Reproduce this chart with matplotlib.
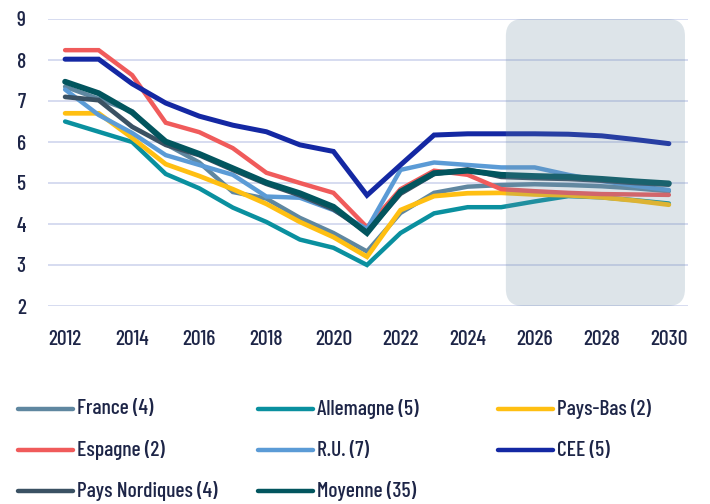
import matplotlib
matplotlib.use('Agg')
import matplotlib.pyplot as plt
from matplotlib.patches import FancyBboxPatch
from matplotlib.lines import Line2D

years = list(range(2012, 2031))

france = [7.35, 7.05, 6.75, 5.95, 5.50, 4.78, 4.62, 4.15, 3.78, 3.33, 4.27, 4.76, 4.91, 4.95, 4.97, 4.95, 4.92, 4.87, 4.80]
allemagne = [6.50, 6.25, 6.00, 5.22, 4.87, 4.40, 4.05, 3.62, 3.42, 3.00, 3.78, 4.26, 4.41, 4.41, 4.55, 4.68, 4.65, 4.58, 4.50]
pays_bas = [6.70, 6.70, 6.10, 5.46, 5.17, 4.85, 4.49, 4.05, 3.68, 3.20, 4.34, 4.68, 4.75, 4.76, 4.72, 4.70, 4.65, 4.57, 4.47]
espagne = [8.24, 8.24, 7.63, 6.47, 6.24, 5.85, 5.25, 5.00, 4.76, 3.92, 4.85, 5.30, 5.20, 4.85, 4.80, 4.76, 4.73, 4.72, 4.71]
ru = [7.28, 6.66, 6.22, 5.68, 5.44, 5.20, 4.67, 4.64, 4.34, 3.88, 5.32, 5.50, 5.44, 5.38, 5.38, 5.20, 5.05, 4.93, 4.83]
cee = [8.02, 8.02, 7.42, 6.95, 6.63, 6.41, 6.25, 5.93, 5.77, 4.70, 5.44, 6.17, 6.20, 6.20, 6.20, 6.19, 6.15, 6.06, 5.96]
nordiques = [7.10, 7.02, 6.37, 5.93, 5.68, 5.32, 4.98, 4.70, 4.36, 3.80, 4.74, 5.22, 5.33, 5.15, 5.12, 5.10, 5.06, 5.00, 4.96]
moyenne = [7.47, 7.19, 6.72, 6.01, 5.71, 5.36, 5.01, 4.75, 4.42, 3.78, 4.79, 5.24, 5.30, 5.20, 5.17, 5.15, 5.10, 5.04, 4.99]

labels = ["France (4)", "Allemagne (5)", "Pays-Bas (2)", "Espagne (2)", "R.U. (7)",
          "CEE (5)", "Pays Nordiques (4)", "Moyenne (35)"]
series = [france, allemagne, pays_bas, espagne, ru, cee, nordiques, moyenne]
colors = ["#5f87a0", "#0a909f", "#ffbf12", "#f05b5b", "#5b9bd6", "#1428a3", "#3a5163", "#02555e"]
widths = [3.2, 3.2, 3.4, 3.2, 3.2, 3.6, 3.4, 4.2]

xticks = list(range(2012, 2031, 2))
yticks = list(range(2, 10))
forecast_start, forecast_end = 2025.14, 2030.48

FONT = ['Barlow Condensed', 'DejaVu Sans']
TXT = '#1d2547'

fig = plt.figure(figsize=(7.1, 5.04), dpi=100)
ax = fig.add_axes([48/710, 1-306/504, 640/710, 287/504])
ax.set_xlim(2011.49, 2030.57)
ax.set_ylim(2, 9)

ax.set_yticks(yticks)
ax.set_xticks(xticks)
ax.grid(axis='y', color='#d3d9ef', lw=1.3, zorder=0)
ax.grid(axis='x', visible=False)
for s in ax.spines.values():
    s.set_visible(False)
ax.tick_params(length=0, colors=TXT, labelsize=15.5)
ax.tick_params(axis='y', pad=16)
ax.tick_params(axis='x', pad=17)
for lab in ax.get_xticklabels() + ax.get_yticklabels():
    lab.set_fontfamily(FONT)
    lab.set_fontweight(500)
    lab.set_color(TXT)

for vals, c, w in zip(series, colors, widths):
    ax.plot(years, vals, color=c, lw=w, solid_capstyle='round', solid_joinstyle='miter', zorder=3)

# forecast shading (drawn over lines)
xpp = (2030.57 - 2011.49) / 640
ypp = 7 / 287
box = FancyBboxPatch((forecast_start, 2), forecast_end - forecast_start, 7,
                     boxstyle="round,pad=0,rounding_size=%f" % (17*xpp),
                     mutation_aspect=ypp/xpp,
                     fc='#6c8ea4', ec='none', alpha=0.23, zorder=4, clip_on=False)
ax.add_patch(box)

# legend, laid out in fixed columns
col_x = [18, 258, 498]
row_y = [409, 450, 491]
for i, (lab, c) in enumerate(zip(labels, colors)):
    r, k = divmod(i, 3)
    x0 = col_x[k] / 710
    y0 = 1 - row_y[r] / 504
    fig.add_artist(Line2D([x0, x0 + 55/710], [y0, y0], color=c, lw=3.2,
                          solid_capstyle='round', transform=fig.transFigure))
    fig.text(x0 + 59/710, y0, lab, fontsize=15.5, family=FONT, fontweight=500,
             color=TXT, va='center', ha='left')

fig.savefig('out.png', dpi=100)
